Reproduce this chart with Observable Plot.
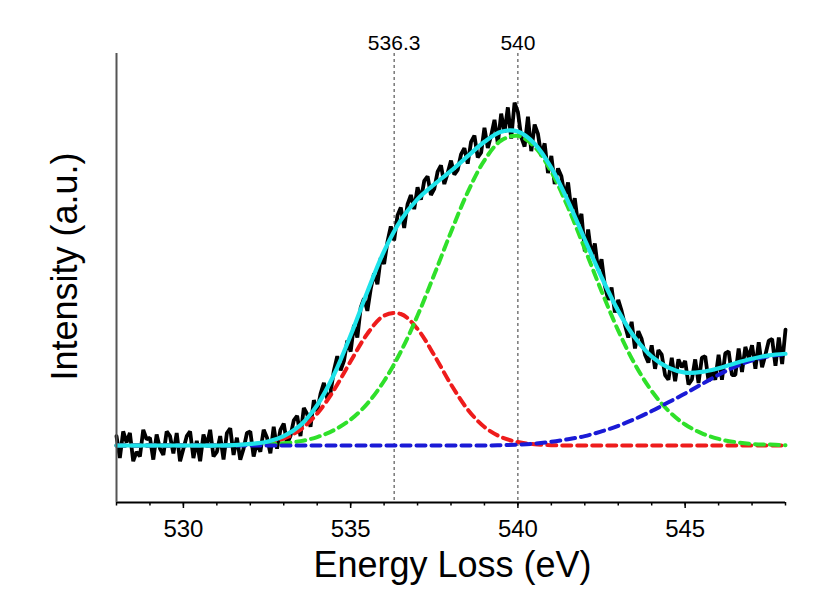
<!DOCTYPE html>
<html>
<head>
<meta charset="utf-8">
<script src="https://cdn.jsdelivr.net/npm/d3@7"></script>
<script src="https://cdn.jsdelivr.net/npm/@observablehq/plot@0.6"></script>
<style>
  html, body { margin: 0; padding: 0; background: #ffffff; }
  #chart { width: 836px; height: 605px; }
</style>
</head>
<body>
<div id="chart"></div>
<script>
// ---- Data ----
// Measured spectrum (black), sampled every 0.1 eV from 528.0 to 548.0
const dataStart = 528;
const dataStep = 0.1;
const measured = [
  0.03, -0.04, 0.045, 0.01, 0.04, -0.05, -0.02, -0.035, 0.05, 0.02,
  0.025, -0.045, 0.035, -0.01, -0.03, 0.045, 0.03, -0.025, 0.04, -0.05,
  -0.01, 0.03, 0.045, -0.04, 0.015, -0.05, 0.035, 0.0, 0.05, -0.035,
  -0.02, 0.03, -0.045, 0.04, 0.055, -0.03, 0.025, -0.045, -0.01, 0.04,
  0.045, -0.035, 0.01, -0.02, 0.05, 0.025, -0.025, 0.06, -0.01, 0.05,
  0.07, 0.005, 0.03, 0.08, 0.095, 0.03, 0.12, 0.1, 0.06, 0.145,
  0.11, 0.165, 0.2, 0.15, 0.17, 0.24, 0.285, 0.24, 0.27, 0.335,
  0.3, 0.385, 0.345, 0.44, 0.47, 0.43, 0.5, 0.55, 0.515, 0.6,
  0.58, 0.65, 0.7, 0.655, 0.735, 0.76, 0.695, 0.77, 0.8, 0.755,
  0.825, 0.785, 0.845, 0.86, 0.8, 0.82, 0.875, 0.895, 0.835, 0.87,
  0.91, 0.865, 0.88, 0.93, 0.95, 0.9, 0.97, 0.99, 0.92, 0.935,
  1.015, 0.95, 0.99, 1.04, 0.965, 1.06, 1.0, 1.08, 0.98, 1.095,
  1.065, 0.985, 0.955, 1.05, 0.94, 1.025, 0.995, 0.925, 0.965, 0.87,
  0.925, 0.835, 0.885, 0.86, 0.795, 0.84, 0.75, 0.79, 0.705, 0.74,
  0.62, 0.69, 0.605, 0.645, 0.56, 0.595, 0.51, 0.465, 0.505, 0.425,
  0.465, 0.43, 0.385, 0.345, 0.395, 0.31, 0.365, 0.34, 0.29, 0.265,
  0.32, 0.245, 0.305, 0.29, 0.225, 0.21, 0.28, 0.205, 0.275, 0.25,
  0.27, 0.195, 0.21, 0.275, 0.2, 0.28, 0.285, 0.205, 0.24, 0.21,
  0.29, 0.21, 0.295, 0.3, 0.225, 0.225, 0.31, 0.235, 0.315, 0.28,
  0.32, 0.245, 0.33, 0.25, 0.29, 0.335, 0.34, 0.255, 0.345, 0.26,
  0.37
];

// Fit curves, sampled every 0.5 eV
const fitEnergy = [
  528, 528.5, 529, 529.5, 530, 530.5, 531, 531.5, 532, 532.5,
  533, 533.5, 534, 534.5, 535, 535.5, 536, 536.5, 537, 537.5,
  538, 538.5, 539, 539.5, 540, 540.5, 541, 541.5, 542, 542.5,
  543, 543.5, 544, 544.5, 545, 545.5, 546, 546.5, 547, 547.5, 548
];
const peakRed = [
  0, 0, 0, 0, 0, 0, 0, 0.001, 0.003, 0.009,
  0.022, 0.051, 0.102, 0.177, 0.269, 0.357, 0.415, 0.420, 0.372, 0.288,
  0.195, 0.115, 0.059, 0.027, 0.011, 0.004, 0.001, 0, 0, 0,
  0, 0, 0, 0, 0, 0, 0, 0, 0, 0, 0
];
const peakGreen = [
  0, 0, 0, 0, 0, 0, 0, 0.001, 0.002, 0.004,
  0.007, 0.014, 0.027, 0.049, 0.083, 0.134, 0.206, 0.300, 0.415, 0.546,
  0.682, 0.809, 0.911, 0.974, 0.989, 0.954, 0.874, 0.760, 0.628, 0.493,
  0.367, 0.259, 0.174, 0.111, 0.067, 0.039, 0.021, 0.011, 0.005, 0.003, 0.001
];
const peakBlue = [
  0, 0, 0, 0, 0, 0, 0, 0, 0, 0,
  0, 0, 0, 0, 0, 0, 0, 0, 0, 0,
  0, 0, 0, 0.001, 0.003, 0.006, 0.012, 0.020, 0.030, 0.045,
  0.063, 0.085, 0.110, 0.138, 0.166, 0.196, 0.226, 0.252, 0.272, 0.285, 0.292
];
const fitTotal = [
  0, 0, 0, 0, 0, 0, 0, 0.001, 0.005, 0.012,
  0.030, 0.065, 0.129, 0.226, 0.352, 0.491, 0.621, 0.720, 0.787, 0.834,
  0.877, 0.924, 0.970, 1.002, 1.003, 0.964, 0.887, 0.780, 0.658, 0.538,
  0.430, 0.344, 0.284, 0.249, 0.233, 0.235, 0.247, 0.263, 0.277, 0.288, 0.293
];

const peakPositions = [536.3, 540];
const peakLabels = ["536.3", "540"];
const majorTicks = [530, 535, 540, 545];
const minorTicks = [528, 529, 530, 531, 532, 533, 534, 535, 536, 537, 538,
                    539, 540, 541, 542, 543, 544, 545, 546, 547, 548];
const xTitle = "Energy Loss (eV)";
const yTitle = "Intensity (a.u.)";

// ---- Build tables ----
const measuredRows = measured.map((v, i) => ({x: +(dataStart + i * dataStep).toFixed(1), y: v}));
const fitRows = fitEnergy.map((x, i) => ({
  x, red: peakRed[i], green: peakGreen[i], blue: peakBlue[i], total: fitTotal[i]
}));
const peakRows = peakPositions.map((x, i) => ({x, label: peakLabels[i]}));

const xDomain = [528, 548];
const yDomain = [-0.182, 1.252];
const font = "'Liberation Sans', Arial, Helvetica, sans-serif";
const dash = {strokeWidth: 4, strokeDasharray: "9,6", curve: "catmull-rom"};

const chart = Plot.plot({
  width: 836,
  height: 605,
  marginLeft: 116,
  marginRight: 51,
  marginTop: 53,
  marginBottom: 103,
  style: {fontFamily: font, background: "#ffffff", color: "#000"},
  x: {domain: xDomain},
  y: {domain: yDomain, axis: null},
  marks: [
    Plot.ruleX(peakRows, {x: "x", stroke: "#333", strokeWidth: 1, strokeDasharray: "3,3"}),
    Plot.line(measuredRows, {x: "x", y: "y", stroke: "#000", strokeWidth: 3.8, strokeLinejoin: "miter"}),
    Plot.line(fitRows, {x: "x", y: "red", stroke: "#ee1c1c", ...dash}),
    Plot.line(fitRows, {x: "x", y: "green", stroke: "#2fe02a", ...dash}),
    Plot.line(fitRows, {x: "x", y: "blue", stroke: "#1a1ad6", ...dash}),
    Plot.line(fitRows, {x: "x", y: "total", stroke: "#1fe3ea", strokeWidth: 4.2, curve: "catmull-rom"}),
    Plot.axisX(minorTicks, {tickSize: 3.5, tickFormat: () => "", label: null, strokeWidth: 1.5}),
    Plot.axisX(majorTicks, {tickSize: 6, tickPadding: 11, fontSize: 24, label: null, strokeWidth: 1.5, tickFormat: d => String(d)}),
    Plot.ruleY([yDomain[0]], {stroke: "#000", strokeWidth: 2}),
    Plot.ruleX([xDomain[0]], {stroke: "#555", strokeWidth: 2}),
    Plot.text(peakRows, {x: "x", text: "label", frameAnchor: "top", lineAnchor: "top", dy: -18.5, fontSize: 21, fill: "#000"}),
    Plot.text([xTitle], {text: d => d, frameAnchor: "bottom", textAnchor: "middle", dx: 1.5, dy: 74, fontSize: 36, fill: "#000"}),
    Plot.text([yTitle], {text: d => d, frameAnchor: "left", textAnchor: "middle", lineAnchor: "middle", rotate: -90, dx: -51, dy: -11.5, fontSize: 36, fill: "#000"})
  ]
});
document.getElementById("chart").appendChild(chart);
</script>
</body>
</html>
